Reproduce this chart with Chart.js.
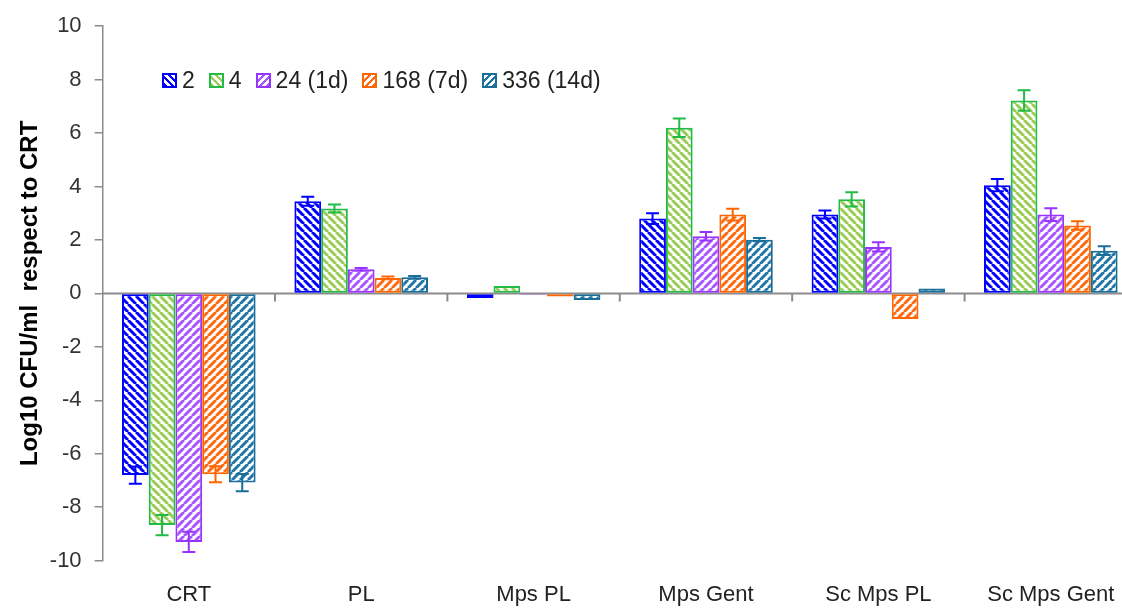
<!DOCTYPE html>
<html>
<head>
<meta charset="utf-8">
<script src="https://cdn.jsdelivr.net/npm/chart.js@4"></script>
<style>
  html, body { margin: 0; padding: 0; background: #fff; overflow: hidden; }
  #wrap { width: 1142px; height: 610px; position: relative; }
  #legend {
    position: absolute; left: 162px; top: 67px;
    display: flex; align-items: center;
    font-family: Arial, "Liberation Sans", sans-serif; font-size: 23px; color: #222;
  }
  #legend .item { display: flex; align-items: center; margin-right: 14px; }
  #legend .box { width: 11px; height: 11px; border: 2px solid; margin-right: 5px; }
</style>
</head>
<body>
<div id="wrap"><canvas id="chart"></canvas><div id="legend"></div></div>
<script>
const groups = ['CRT', 'PL', 'Mps PL', 'Mps Gent', 'Sc Mps PL', 'Sc Mps Gent'];
const seriesNames = ['2', '4', '24 (1d)', '168 (7d)', '336 (14d)'];

const h2 = [-6.8, 3.45, -0.17, 2.8, 2.95, 4.05];
const h2Err = [0.32, 0.17, 0, 0.2, 0.15, 0.23];
const h4 = [-8.67, 3.18, 0.28, 6.2, 3.52, 7.22];
const h4Err = [0.38, 0.15, 0, 0.35, 0.27, 0.38];
const h24 = [-9.3, 0.9, -0.05, 2.14, 1.74, 2.95];
const h24Err = [0.38, 0.05, 0, 0.16, 0.17, 0.24];
const h168 = [-6.77, 0.58, -0.12, 2.95, -0.96, 2.54];
const h168Err = [0.3, 0.05, 0, 0.22, 0, 0.16];
const h336 = [-7.08, 0.6, -0.25, 2.01, 0.18, 1.6];
const h336Err = [0.32, 0.05, 0, 0.06, 0, 0.16];

const font = 'Arial, "Liberation Sans", sans-serif';

// diagonal hatch, dir 'down' = "\" , 'up' = "/"
function hatch(color, dir) {
  const s = 8;
  const c = document.createElement('canvas');
  c.width = s; c.height = s;
  const g = c.getContext('2d');
  g.fillStyle = '#fff';
  g.fillRect(0, 0, s, s);
  g.strokeStyle = color;
  g.lineWidth = 3;
  g.beginPath();
  for (let k = -1; k <= 1; k++) {
    if (dir === 'down') { g.moveTo(k * s, 0); g.lineTo(k * s + s, s); }
    else { g.moveTo(k * s, s); g.lineTo(k * s + s, 0); }
  }
  g.stroke();
  return g.createPattern(c, 'repeat');
}

const styles = [
  { border: '#0000ff', stripe: '#0000ff', dir: 'down' },
  { border: '#22bb44', stripe: '#99cc55', dir: 'down' },
  { border: '#9933ff', stripe: '#a855ff', dir: 'up' },
  { border: '#ff6600', stripe: '#ff6a10', dir: 'up' },
  { border: '#1a6e9a', stripe: '#1f75a5', dir: 'up' }
];
const values = [h2, h4, h24, h168, h336];
const errors = [h2Err, h4Err, h24Err, h168Err, h336Err];

const datasets = seriesNames.map((name, i) => ({
  label: name,
  data: values[i],
  errors: errors[i],
  backgroundColor: hatch(styles[i].stripe, styles[i].dir),
  borderColor: styles[i].border,
  borderWidth: 2,
  borderSkipped: false,
  categoryPercentage: 0.775,
  barPercentage: 1.0
}));

// legend as html text
const legendEl = document.getElementById('legend');
seriesNames.forEach((name, i) => {
  const st = styles[i];
  const item = document.createElement('div');
  item.className = 'item';
  const box = document.createElement('span');
  box.className = 'box';
  box.style.borderColor = st.border;
  const ang = st.dir === 'down' ? '45deg' : '-45deg';
  box.style.background = 'repeating-linear-gradient(' + ang + ', ' + st.stripe + ' 0 2.5px, #fff 2.5px 5px)';
  const txt = document.createElement('span');
  txt.textContent = name;
  item.appendChild(box);
  item.appendChild(txt);
  legendEl.appendChild(item);
});

const errorBars = {
  id: 'errorBars',
  afterDatasetsDraw(chart) {
    const ctx = chart.ctx, y = chart.scales.y;
    chart.data.datasets.forEach((ds, i) => {
      chart.getDatasetMeta(i).data.forEach((bar, j) => {
        const e = ds.errors[j];
        if (!e) return;
        const v = ds.data[j];
        const top = y.getPixelForValue(v + e);
        const bot = y.getPixelForValue(v - e);
        ctx.save();
        ctx.strokeStyle = ds.borderColor;
        ctx.lineWidth = 2;
        ctx.beginPath();
        ctx.moveTo(bar.x, top); ctx.lineTo(bar.x, bot);
        ctx.moveTo(bar.x - 6.5, top); ctx.lineTo(bar.x + 6.5, top);
        ctx.moveTo(bar.x - 6.5, bot); ctx.lineTo(bar.x + 6.5, bot);
        ctx.stroke();
        ctx.restore();
      });
    });
  }
};

// horizontal axis line at zero with the category tick marks
const zeroAxis = {
  id: 'zeroAxis',
  beforeDatasetsDraw(chart) {
    const {ctx, chartArea, scales: {x, y}} = chart;
    const y0 = y.getPixelForValue(0);
    const step = x.getPixelForValue(1) - x.getPixelForValue(0);
    ctx.save();
    ctx.strokeStyle = '#8c8c8c';
    ctx.lineWidth = 2;
    ctx.beginPath();
    ctx.moveTo(chartArea.left, y0);
    ctx.lineTo(chartArea.right, y0);
    for (let i = 1; i <= groups.length; i++) {
      const px = x.getPixelForValue(0) - step / 2 + i * step;
      ctx.moveTo(px, y0);
      ctx.lineTo(px, y0 + 8);
    }
    ctx.stroke();
    ctx.restore();
  }
};

new Chart(document.getElementById('chart'), {
  type: 'bar',
  data: { labels: groups, datasets: datasets },
  plugins: [zeroAxis, errorBars],
  options: {
    responsive: true,
    maintainAspectRatio: false,
    animation: false,
    layout: { padding: { left: 16, right: 5, top: 12, bottom: -19 } },
    plugins: {
      tooltip: { enabled: false },
      legend: { display: false }
    },
    scales: {
      x: {
        grid: { display: false, drawTicks: false },
        border: { display: false },
        ticks: { color: '#222', padding: 21, font: { family: font, size: 22 } }
      },
      y: {
        min: -10,
        max: 10,
        ticks: { stepSize: 2, color: '#333', padding: 13, font: { family: font, size: 22 } },
        grid: { drawOnChartArea: false, drawTicks: true, tickLength: 8, color: '#8c8c8c', lineWidth: 1.5 },
        border: { display: true, color: '#8c8c8c', width: 1.5 },
        title: {
          display: true,
          text: 'Log10 CFU/ml  respect to CRT',
          color: '#000',
          padding: { top: 0, bottom: -8 },
          font: { family: font, size: 24, weight: 'bold' }
        }
      }
    }
  }
});
</script>
</body>
</html>
